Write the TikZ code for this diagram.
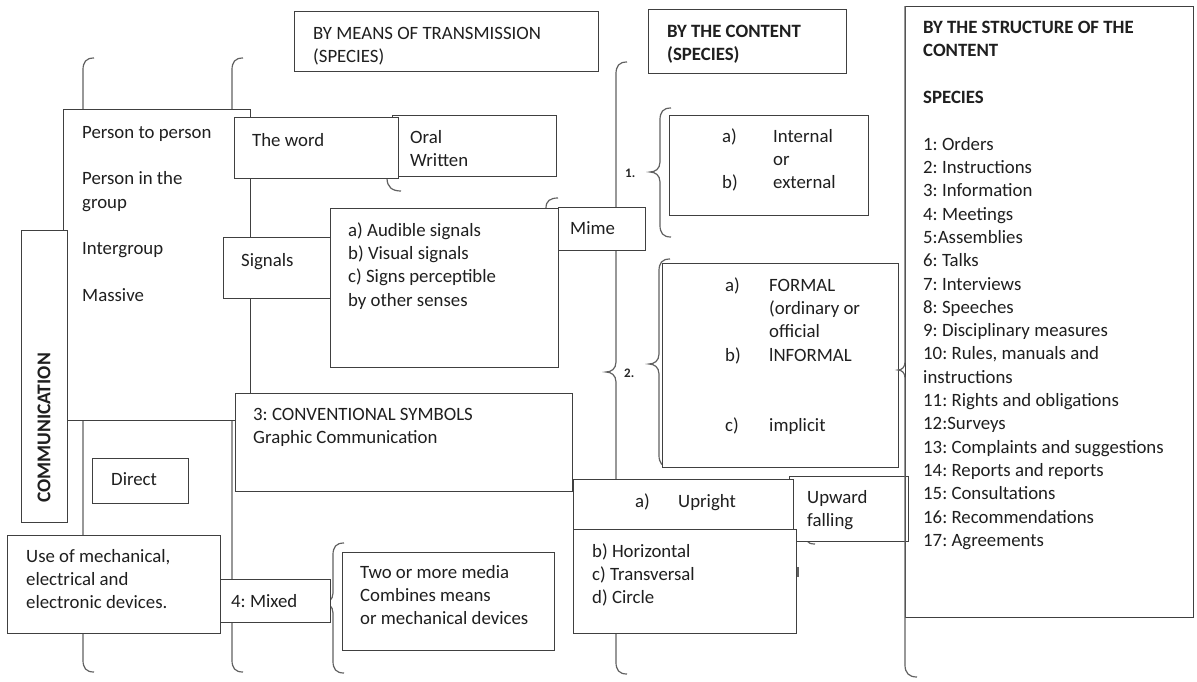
\documentclass[tikz,border=0pt]{standalone}
\usepackage{fontspec}
\setmainfont{Carlito}
\newcommand\fl{\rule{0pt}{17pt}}
\newcommand\mybrace[4]{\draw[brc] (#1+11,#2) .. controls (#1+3,#2) and (#1,#2+4) .. (#1,#2+12) -- (#1,#3-10) .. controls (#1,#3-3) and (#1-5,#3) .. (#1-10,#3) .. controls (#1-5,#3) and (#1,#3+3) .. (#1,#3+10) -- (#1,#4-12) .. controls (#1,#4-4) and (#1+3,#4) .. (#1+11,#4);}
\begin{document}
\frenchspacing
\begin{tikzpicture}[x=1pt,y=-1pt,
 bx/.style={draw=black!75, line width=1.2pt, fill=white, inner sep=0pt, anchor=north west},
 txt/.style={anchor=north west, inner sep=0pt, align=left, text=black!88, font=\fontsize{18.8}{23.3}\selectfont\frenchspacing},
 btxt/.style={txt, font=\fontsize{18.8}{23.3}\selectfont\bfseries\frenchspacing},
 stxt/.style={anchor=base west, inner sep=0pt, text=black!85, font=\fontsize{13}{15}\selectfont\bfseries},
 brc/.style={draw=black!62, line width=1.2pt}]
\fill[white] (0,0) rectangle (1197,681);
\useasboundingbox (0,0) rectangle (1197,681);
% braces
\mybrace{83}{58}{300}{672}
\mybrace{232}{58}{300}{672}
\mybrace{616}{62}{372}{674}
\mybrace{333}{543}{603}{673}
\mybrace{660}{108}{172}{237}
\mybrace{659}{259}{364}{467}
\draw[brc] (387,178) .. controls (387,187) and (392,191) .. (401,191);
\draw[brc] (546,208) .. controls (546,201) and (550,198) .. (558,198);
\draw[brc] (807,541) .. controls (808,543) and (811,544) .. (815,544);
\draw[brc, line width=2pt] (798,567) -- (798,577);
% boxes
\node[bx, minimum width=187pt, minimum height=311pt] (person) at (63,109) {};
\node[bx, minimum width=164pt, minimum height=61pt] (oral) at (392,115) {};
\node[bx, minimum width=164pt, minimum height=61pt] (word) at (234,117) {};
\node[bx, minimum width=228pt, minimum height=159pt] (audible) at (330,208) {};
\node[bx, minimum width=107pt, minimum height=61pt] (signals) at (223,237) {};
\node[bx, minimum width=87pt, minimum height=43pt] (mime) at (558,207) {};
\node[bx, minimum width=337pt, minimum height=98pt] (conv) at (235,393) {};
\node[bx, minimum width=46pt, minimum height=292pt] (comm) at (21,230) {};
\node[bx, minimum width=96pt, minimum height=45pt] (direct) at (92,458) {};
\node[bx, minimum width=213pt, minimum height=98pt] (usemech) at (7,535) {};
\node[bx, minimum width=110pt, minimum height=43pt] (mixed) at (220,579) {};
\node[bx, minimum width=212pt, minimum height=98pt] (two) at (342,552) {};
\node[bx, minimum width=199pt, minimum height=100pt] (internal) at (669,115) {};
\node[bx, minimum width=236pt, minimum height=204pt] (formal) at (662,263) {};
\node[bx, minimum width=119pt, minimum height=65pt] (upward) at (789,476) {};
\node[bx, minimum width=220pt, minimum height=50pt] (upright) at (573,479) {};
\node[bx, minimum width=223pt, minimum height=104pt] (horiz) at (573,529) {};
\node[bx, minimum width=304pt, minimum height=60pt] (means) at (294,11) {};
\node[bx, minimum width=198pt, minimum height=64pt] (content) at (648,9) {};
\node[bx, fill=none, minimum width=288pt, minimum height=611pt] (struct) at (905,6) {};
\draw[brc] (905,6) -- (905,362) .. controls (905,367) and (902,370) .. (898,370) .. controls (902,370) and (905,373) .. (905,378) -- (905,665) .. controls (905,673) and (909,677) .. (917,677);
% texts
\node[txt] (tmeans) at (313,39-17) {\fl BY MEANS OF TRANSMISSION\\(SPECIES)};
\node[btxt] (tcontent) at (667,37-17) {\fl BY THE CONTENT\\(SPECIES)};
\node[btxt] (tstruct) at (923,33-17) {\fl BY THE STRUCTURE OF THE\\CONTENT};
\node[btxt] (tspecies) at (923,103-17) {\fl SPECIES};
\node[txt] (tlist) at (923,150-17) {\fl 1: Orders\\2: Instructions\\3: Information\\4: Meetings\\5:Assemblies\\6: Talks\\7: Interviews\\8: Speeches\\9: Disciplinary measures\\10: Rules, manuals and\\instructions\\11: Rights and obligations\\12:Surveys\\13: Complaints and suggestions\\14: Reports and reports\\15: Consultations\\16: Recommendations\\17: Agreements};
\node[txt] (tperson) at (82,138-17) {\fl Person to person\\[23.3pt]Person in the\\group\\[23.3pt]Intergroup\\[23.3pt]Massive};
\node[anchor=center, inner sep=0pt, rotate=90, text=black!88, font=\fontsize{19.5}{22}\selectfont\bfseries] (tcomm) at (44,428) {COMMUNICATION};
\node[txt] (tword) at (252,146-17) {\fl The word};
\node[txt] (toral) at (410,143-17) {\fl Oral\\Written};
\node[txt] (tsignals) at (241,266-17) {\fl Signals};
\node[txt] (taudible) at (348,236-17) {\fl a) Audible signals\\b) Visual signals\\c) Signs perceptible\\by other senses};
\node[txt] (tmime) at (570,234-17) {\fl Mime};
\node[stxt] (tone) at (625,177) {1.};
\node[stxt] (ttwo) at (624,377) {2.};
\node[txt] (tia) at (722,142-17) {\fl a)};
\node[txt] (tib) at (722,188-17) {\fl b)};
\node[txt] (tint) at (773,142-17) {\fl Internal\\or\\external};
\node[txt] (tfa) at (725,291-17) {\fl a)};
\node[txt] (tfb) at (725,361-17) {\fl b)};
\node[txt] (tfc) at (725,431-17) {\fl c)};
\node[txt] (tformal) at (769,291-17) {\fl FORMAL\\(ordinary or\\official\\lNFORMAL};
\node[txt] (timpl) at (769,431-17) {\fl implicit};
\node[txt] (tua) at (635,507-17) {\fl a)};
\node[txt] (tupright) at (678,507-17) {\fl Upright};
\node[txt] (thoriz) at (592,557-17) {\fl b) Horizontal\\c) Transversal\\d) Circle};
\node[txt] (tupward) at (807,503-17) {\fl Upward\\falling};
\node[txt] (tconv) at (253,420-17) {\fl 3: CONVENTIONAL SYMBOLS\\Graphic Communication};
\node[txt] (tdirect) at (111,485-17) {\fl Direct};
\node[txt] (tusemech) at (26,562-17) {\fl Use of mechanical,\\electrical and\\electronic devices.};
\node[txt] (tmixed) at (231,607-17) {\fl 4: Mixed};
\node[txt] (ttwo2) at (360,578-17) {\fl Two or more media\\Combines means\\or mechanical devices};
\end{tikzpicture}
\end{document}
